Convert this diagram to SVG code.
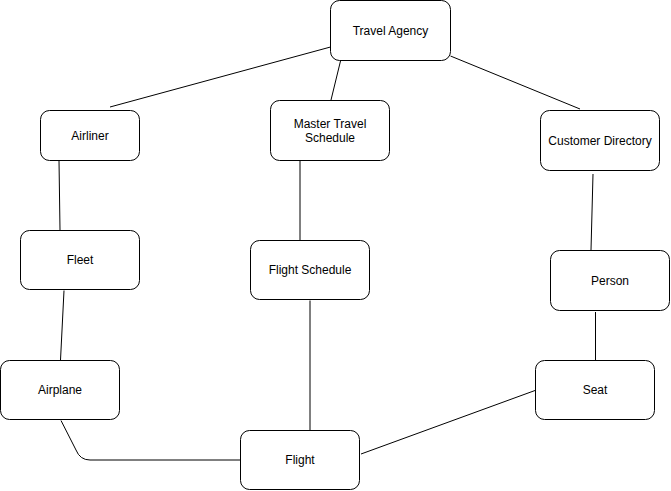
<svg xmlns="http://www.w3.org/2000/svg" width="671" height="491" viewBox="0 0 671 491">
<style>
.n rect{fill:#fff;stroke:#000;stroke-width:1}
.n text{font-family:"Liberation Sans",Arial,sans-serif;font-size:12px;fill:#000;text-anchor:middle;dominant-baseline:central}
.e path{fill:none;stroke:#000;stroke-width:1}
</style>
<rect width="671" height="491" fill="#fff"/>
<g class="e" id="connectors">
<path d="M330.5,47 L110,107"/>
<path d="M340.5,61 L331,100"/>
<path d="M450.5,56 L580,109"/>
<path d="M59,160.5 L60,230"/>
<path d="M64,290.5 L60.5,360"/>
<path d="M300,160.5 L300,240"/>
<path d="M310,300.5 L310,440"/>
<path d="M593,174 L591,250"/>
<path d="M595.5,312 L595.5,360"/>
<path d="M535,390.5 L361,454"/>
<path d="M61,420.5 L76,450 Q80,460 90,460 L240,460"/>
</g>
<g class="n" id="travel-agency"><rect x="330.5" y="0.5" width="120" height="60" rx="9"/><text x="390.5" y="30.5">Travel Agency</text></g>
<g class="n" id="airliner"><rect x="40.5" y="110.5" width="99" height="50" rx="9"/><text x="90" y="135.5">Airliner</text></g>
<g class="n" id="master-travel-schedule"><rect x="270.5" y="100.5" width="119" height="60" rx="9"/><text x="330" y="123.5">Master Travel</text><text x="330" y="137.5">Schedule</text></g>
<g class="n" id="customer-directory"><rect x="540.5" y="110.5" width="119" height="60" rx="9"/><text x="600" y="140.5">Customer Directory</text></g>
<g class="n" id="fleet"><rect x="20.5" y="230.5" width="119" height="59" rx="9"/><text x="80" y="260">Fleet</text></g>
<g class="n" id="flight-schedule"><rect x="250.5" y="240.5" width="119" height="59" rx="9"/><text x="310" y="270">Flight Schedule</text></g>
<g class="n" id="person"><rect x="550.5" y="250.5" width="119" height="60" rx="9"/><text x="610" y="280.5">Person</text></g>
<g class="n" id="airplane"><rect x="0.5" y="360.5" width="119" height="59" rx="9"/><text x="60" y="390">Airplane</text></g>
<g class="n" id="seat"><rect x="535.5" y="360.5" width="119" height="59" rx="9"/><text x="595" y="390">Seat</text></g>
<g class="n" id="flight"><rect x="240.5" y="430.5" width="119" height="59" rx="9"/><text x="300" y="460">Flight</text></g>
</svg>
